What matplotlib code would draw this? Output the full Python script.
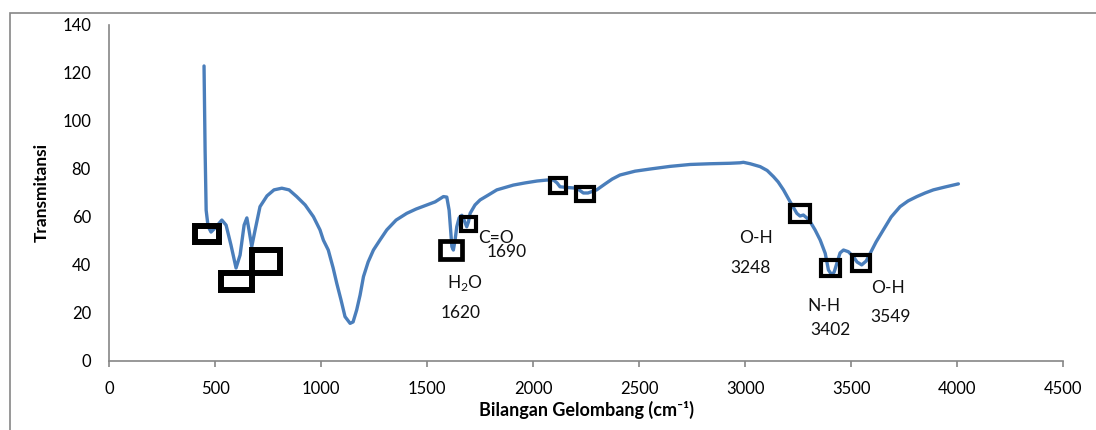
import matplotlib.pyplot as plt
from matplotlib.patches import Rectangle

plt.rcParams['font.family'] = ['Lato', 'DejaVu Sans']
plt.rcParams['mathtext.fontset'] = 'custom'
plt.rcParams['mathtext.rm'] = 'Lato'

# FTIR spectrum
wavenumber = [448, 453, 458, 467, 481, 500, 532, 552, 575, 599, 618, 637, 650, 660,
              673, 689, 712, 745, 778, 815, 849, 885, 925, 964, 995, 1011, 1034, 1057,
              1074, 1094, 1113, 1137, 1151, 1168, 1184, 1200, 1222, 1247, 1278, 1310,
              1354, 1404, 1448, 1499, 1538, 1577, 1593, 1604, 1617, 1624, 1632, 1640,
              1651, 1664, 1675, 1687, 1695, 1703, 1726, 1750, 1788, 1829, 1868, 1907,
              1962, 2019, 2065, 2096, 2113, 2127, 2160, 2206, 2237, 2259, 2300, 2340,
              2373, 2410, 2481, 2552, 2646, 2741, 2835, 2929, 2976, 2992, 3024, 3071,
              3104, 3134, 3156, 3181, 3212, 3244, 3259, 3275, 3291, 3307, 3330, 3354,
              3378, 3393, 3409, 3420, 3433, 3448, 3464, 3487, 3511, 3528, 3550, 3571,
              3590, 3618, 3652, 3689, 3731, 3769, 3810, 3849, 3888, 3943, 4006]
transmit = [122.9, 87.8, 62.7, 56.0, 53.6, 55.3, 58.6, 56.5, 48.2, 38.6, 44.0, 56.5,
            59.5, 54.5, 47.5, 54.5, 64.2, 68.7, 71.2, 71.9, 71.2, 68.4, 64.9, 60.0,
            54.5, 50.2, 46.1, 38.6, 32.2, 25.3, 18.3, 15.5, 16.1, 21.1, 27.3, 35.0,
            41.1, 46.1, 50.3, 54.5, 58.6, 61.4, 63.2, 64.9, 66.2, 68.4, 68.2, 62.7,
            47.5, 46.1, 50.2, 55.8, 59.5, 60.6, 58.5, 55.8, 57.8, 61.4, 64.9, 67.0,
            69.0, 71.2, 72.2, 73.2, 74.1, 74.9, 75.3, 75.3, 74.1, 72.5, 72.2, 71.9,
            69.9, 69.9, 71.2, 73.7, 75.7, 77.4, 79.0, 79.9, 81.0, 81.8, 82.1, 82.3,
            82.5, 82.7, 82.1, 80.9, 79.3, 76.7, 74.5, 71.2, 66.3, 61.4, 60.3, 60.7,
            59.5, 57.9, 54.5, 50.3, 44.7, 37.8, 35.7, 36.9, 40.6, 44.9, 46.1, 45.4,
            43.3, 41.1, 39.9, 41.5, 44.7, 49.5, 54.5, 59.9, 64.2, 66.6, 68.4, 69.9,
            71.2, 72.4, 73.7]

# marker boxes around peaks (x0, x1, y0, y1)
boxes = [(404, 518, 49.5, 56.0), (530, 675, 29.3, 36.5), (676, 805, 36.6, 46.2),
         (1561, 1667, 42.2, 50.0), (1662, 1732, 54.2, 59.8), (2079, 2153, 70.0, 76.1),
         (2203, 2287, 66.5, 72.4), (3214, 3305, 57.7, 64.7), (3360, 3446, 35.2, 41.8),
         (3505, 3588, 37.5, 44.1)]
box_lw = [4.3, 4.3, 4.3, 3.4, 3.0, 3.0, 3.0, 3.0, 3.0, 3.0]

# peak labels
labels = ['C=O', '1690', 'H$_\\mathregular{2}$O', '1620', 'O-H', '3248',
          'N-H', '3402', 'O-H', '3549']
label_x = [1825, 1876, 1679, 1660, 3050, 3024, 3373, 3403, 3672, 3684]
label_y = [51.0, 45.1, 32.3, 19.8, 51.0, 38.8, 22.8, 12.7, 30.1, 18.2]

fig = plt.figure(figsize=(10.96, 4.30), dpi=100)
ax = fig.add_axes([0.0995, 0.1616, 0.8705, 0.7803])

ax.plot(wavenumber, transmit, color='#4a7ebb', lw=2.4, solid_capstyle='round', zorder=2)

for (x0, x1, y0, y1), lw in zip(boxes, box_lw):
    ax.add_patch(Rectangle((x0, y0), x1 - x0, y1 - y0, fill=False,
                           edgecolor='black', lw=lw, zorder=3))

for t, x, y in zip(labels, label_x, label_y):
    ax.text(x, y, t, ha='center', va='center', fontsize=12.5, color='#111111', zorder=4)

ax.set_xlim(0, 4500)
ax.set_ylim(0, 140)
ax.set_xticks(range(0, 4501, 500))
ax.set_yticks(range(0, 141, 20))

for s in ['top', 'right']:
    ax.spines[s].set_visible(False)
for s in ['left', 'bottom']:
    ax.spines[s].set_color('#868686')
    ax.spines[s].set_linewidth(1.2)

ax.tick_params(axis='x', length=4.5, width=1.2, color='#868686', pad=10, labelsize=12)
ax.tick_params(axis='y', length=0, pad=13, labelsize=12)

ax.set_xlabel('Bilangan Gelombang (cm\u207b\u00b9)', fontsize=13, fontweight='bold', labelpad=3)
ax.set_ylabel('Transmitansi', fontsize=12.5, fontweight='bold', labelpad=9)

# chart area border (runs off the right and bottom of the picture)
fig.add_artist(Rectangle((0.0091, -0.1), 1.2, 0.1 + 0.969, transform=fig.transFigure,
                         fill=False, edgecolor='#868686', lw=1.2))

fig.savefig('out.png', dpi=100)
